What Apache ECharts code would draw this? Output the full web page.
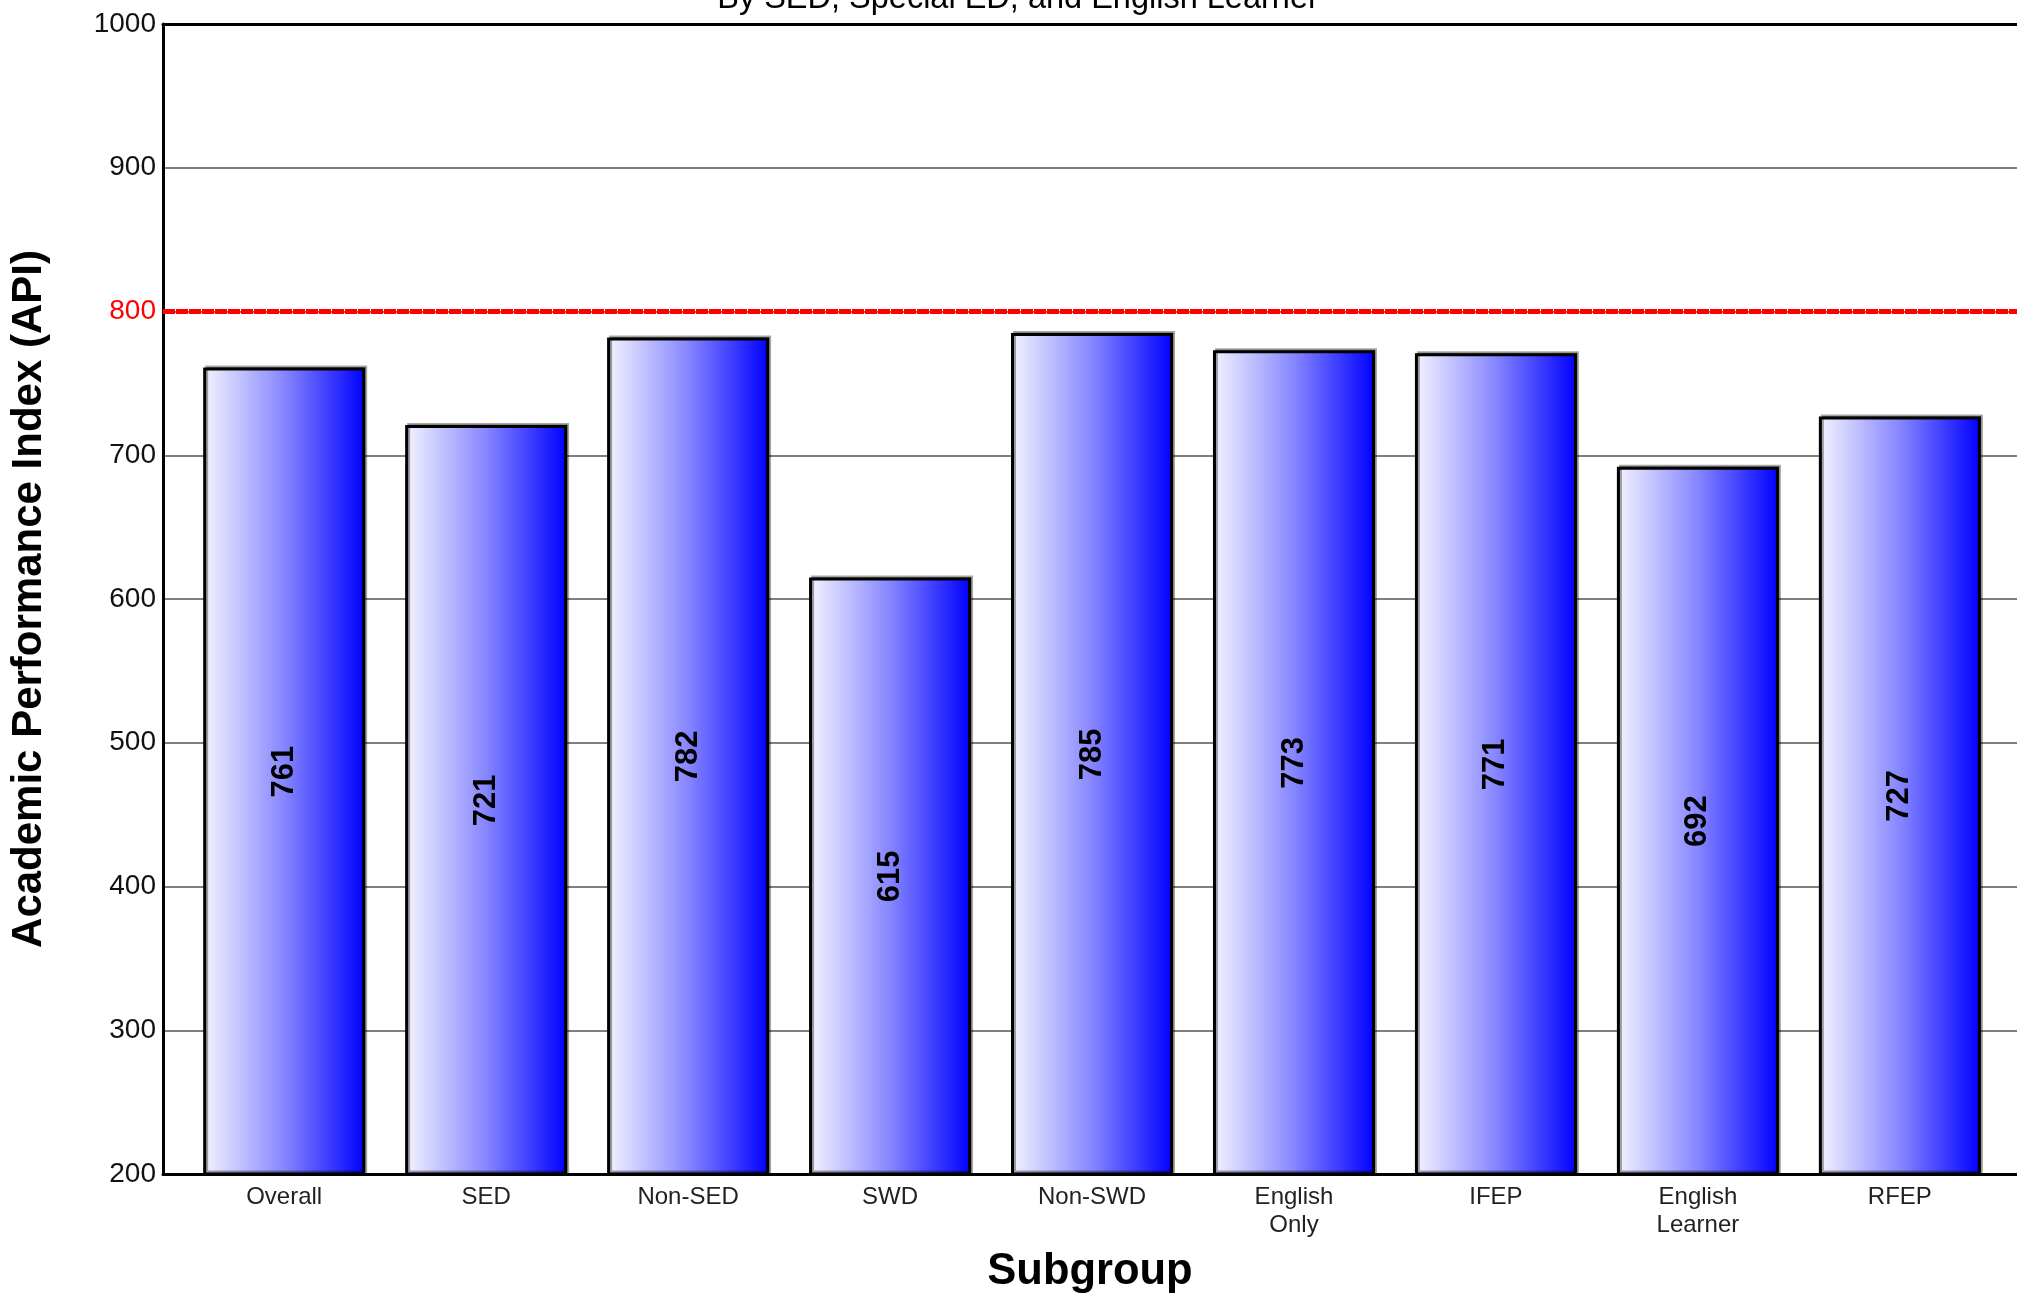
<!DOCTYPE html>
<html>
<head>
<meta charset="utf-8">
<script src="https://cdn.jsdelivr.net/npm/echarts@6/dist/echarts.min.js"></script>
<style>
html,body{margin:0;padding:0;background:#fff;}
#chart{width:2017px;height:1295px;}
</style>
</head>
<body>
<div id="chart"></div>
<script>
const categories = ["Overall", "SED", "Non-SED", "SWD", "Non-SWD", "English\nOnly", "IFEP", "English\nLearner", "RFEP"];
const apiValues = [761, 721, 782, 615, 785, 773, 771, 692, 727];
const yTicks = [200, 300, 400, 500, 600, 700, 800, 900, 1000];
const targetLine = 800;
const titleText = "By SED, Special ED, and English Learner";
const yAxisTitle = "Academic Performance Index (API)";
const xAxisTitle = "Subgroup";

const FONT = "'Liberation Sans', Arial, sans-serif";
const chart = echarts.init(document.getElementById('chart'), null, {renderer: 'canvas'});

const barData = apiValues.map((v, i) => [i, v]);
const catIndex = categories.map((c, i) => i);
const X_MIN = -0.6, X_MAX = 8.58;

chart.setOption({
  animation: false,
  backgroundColor: '#ffffff',
  title: {
    text: titleText,
    left: 1013,
    textAlign: 'center',
    top: -22,
    textStyle: {fontFamily: FONT, fontSize: 32.5, fontWeight: 'normal', color: '#000'}
  },
  grid: {left: 163, top: 24, bottom: 121, right: 0, show: false, containLabel: false, outerBoundsMode: 'none'},
  xAxis: [{
    type: 'value',
    min: X_MIN,
    max: X_MAX,
    splitLine: {show: false},
    axisTick: {show: false},
    axisLine: {show: true, onZero: false, lineStyle: {color: '#000', width: 3}},
    axisLabel: {
      customValues: catIndex,
      formatter: function (v) { return categories[Math.round(v)] || ''; },
      fontFamily: FONT, fontSize: 24, color: '#222', margin: 9, lineHeight: 28
    },
    name: xAxisTitle,
    nameLocation: 'middle',
    nameGap: 76,
    nameTextStyle: {fontFamily: FONT, fontSize: 43.5, fontWeight: 'bold', color: '#000'}
  }, {
    type: 'value',
    position: 'top',
    min: X_MIN,
    max: X_MAX,
    splitLine: {show: false},
    axisTick: {show: false},
    axisLabel: {show: false},
    axisLine: {show: true, onZero: false, lineStyle: {color: '#000', width: 3}}
  }],
  yAxis: {
    type: 'value',
    min: yTicks[0],
    max: yTicks[yTicks.length - 1],
    interval: 100,
    axisLine: {show: true, onZero: false, lineStyle: {color: '#000', width: 3}},
    axisTick: {show: false},
    splitLine: {show: true, lineStyle: {color: '#555', width: 1.5}},
    axisLabel: {
      fontFamily: FONT, fontSize: 28, margin: 7,
      formatter: function (v) { return String(v); },
      color: function (v) { return Number(v) === targetLine ? '#ff0000' : '#111'; }
    },
    name: yAxisTitle,
    nameLocation: 'middle',
    nameGap: 113,
    nameTextStyle: {fontFamily: FONT, fontSize: 42, fontWeight: 'bold', color: '#000'}
  },
  series: [{
    type: 'bar',
    xAxisIndex: 0,
    data: barData,
    barWidth: 162,
    itemStyle: {
      color: {
        type: 'linear', x: 0, y: 0, x2: 1, y2: 0,
        colorStops: [
          {offset: 0, color: '#f4f4ff'},
          {offset: 0.5, color: '#8686ff'},
          {offset: 1, color: '#0000ff'}
        ]
      },
      borderColor: '#000',
      borderWidth: 3,
      shadowColor: 'rgba(0,0,0,0.35)',
      shadowOffsetX: 2,
      shadowOffsetY: -2,
      shadowBlur: 0
    },
    label: {
      show: true,
      position: 'inside',
      rotate: 90,
      formatter: function (p) { return p.value[1]; },
      fontFamily: FONT, fontSize: 31, fontWeight: 'bold', color: '#000'
    },
    markLine: {
      silent: true,
      symbol: ['none', 'none'],
      label: {show: false},
      lineStyle: {color: '#ff0000', width: 5, type: [12, 1]},
      data: [{yAxis: targetLine}]
    }
  }]
});
</script>
</body>
</html>
